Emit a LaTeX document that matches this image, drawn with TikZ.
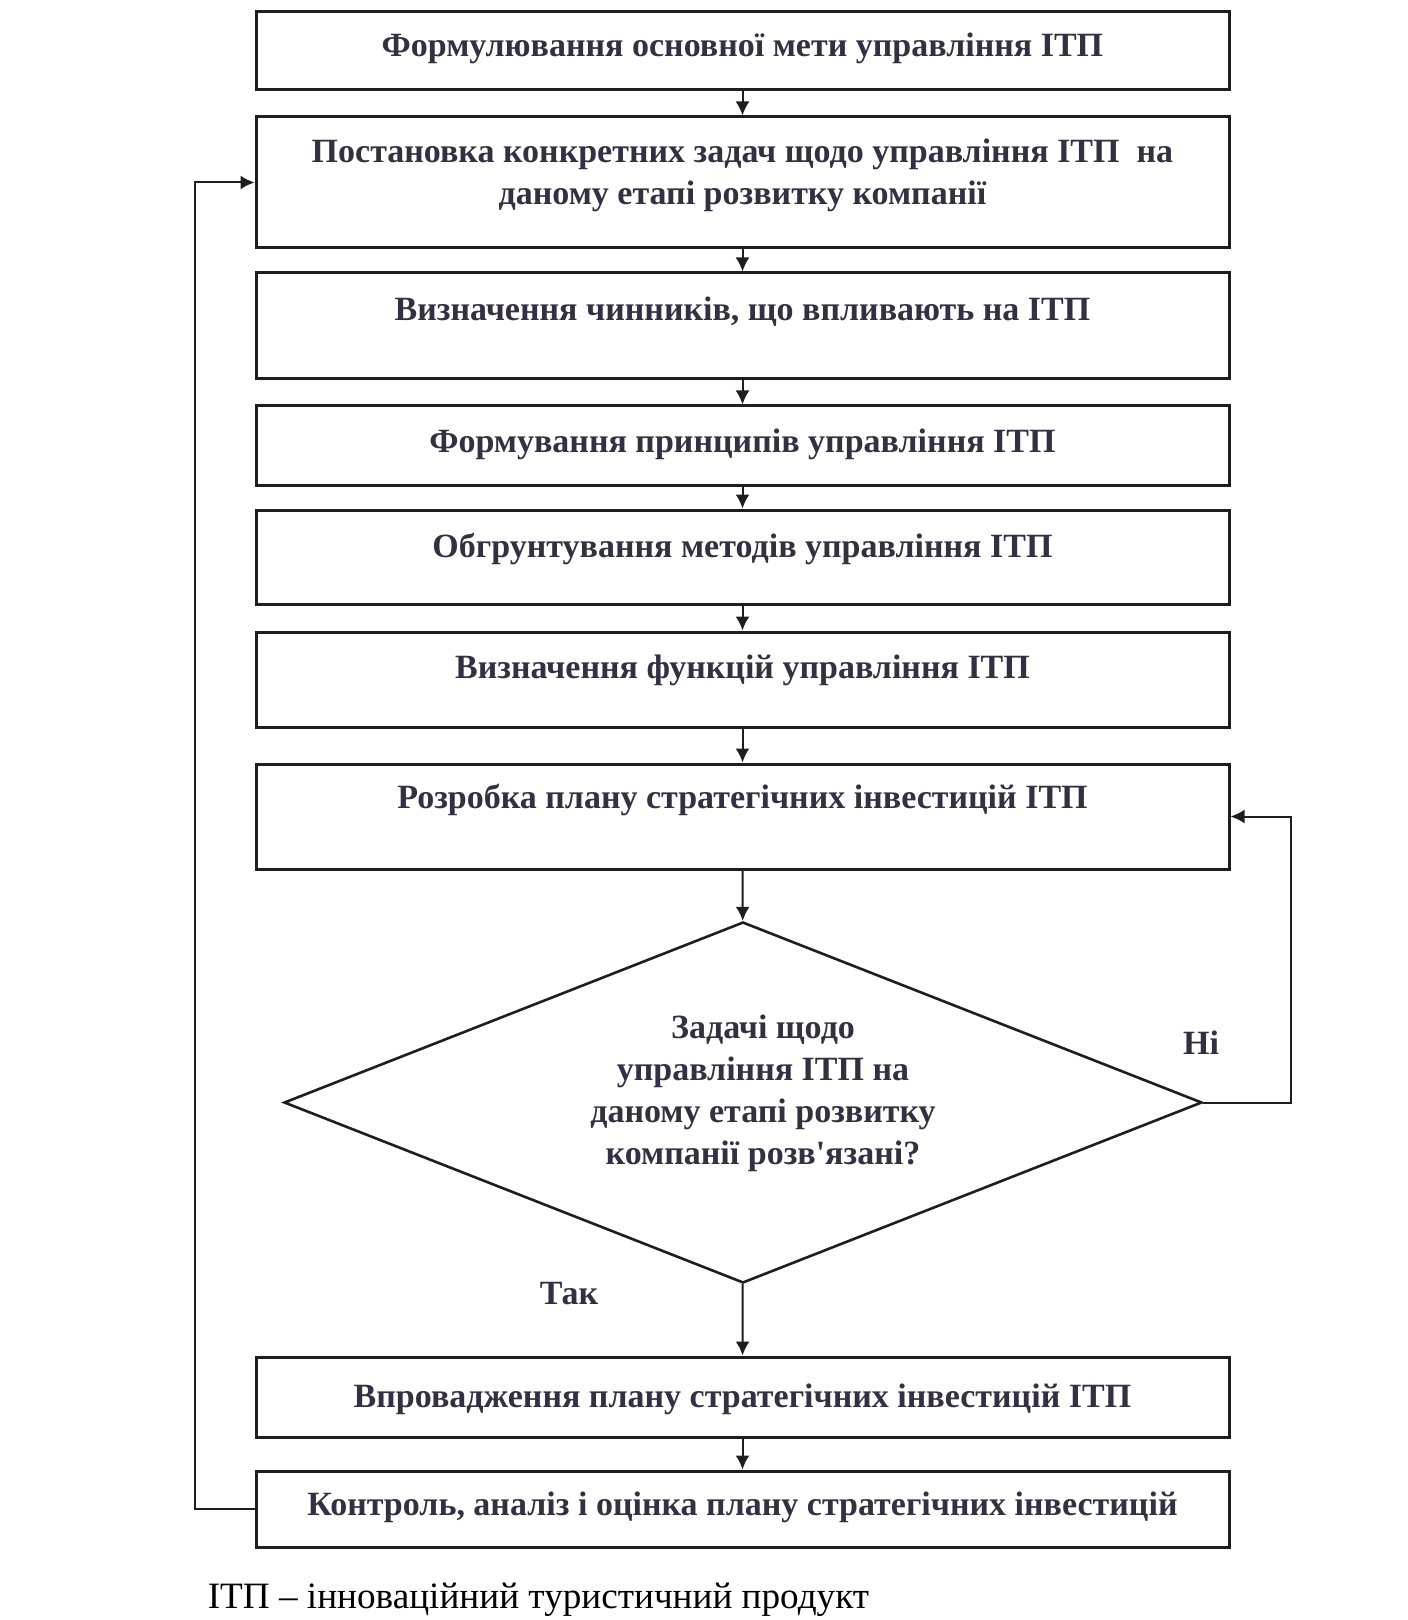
\documentclass[tikz,border=0pt]{standalone}
\usepackage{fontspec}
\setmainfont{Liberation Serif}
\usetikzlibrary{shapes.geometric,arrows.meta,positioning}
\definecolor{inkc}{RGB}{52,48,66}
\definecolor{linec}{RGB}{30,30,30}

\begin{document}
\begin{tikzpicture}[x=0.5pt,y=-0.5pt,
  stepbox/.style={rectangle, draw=linec, line width=1.5pt, minimum width=486.5pt, inner sep=0pt,
    text=inkc, font=\fontsize{17}{21}\selectfont\bfseries, align=center},
  lift/.style={text height=12pt, text depth=#1},
  steptext/.style={text=inkc, font=\fontsize{17}{21}\selectfont\bfseries, align=center, inner sep=0pt},
  decision/.style={diamond, draw=linec, line width=1.3pt, inner sep=0pt, shape aspect=2.54,
    minimum width=459pt, minimum height=180.5pt},
  answer/.style={text=inkc, font=\fontsize{17}{21}\selectfont\bfseries},
  flow/.style={draw=linec, line width=1pt, -{Latex[length=7pt,width=7pt]}}]
\useasboundingbox (0,0) rectangle (1407,1620);

% steps of the process
\node (b1) [stepbox, lift=6pt, minimum height=39pt] at (742.5,51) {Формулювання основної мети управління ІТП};
\node (b2) [stepbox, minimum height=65.5pt] at (742.5,182.5) {};
\node (t2) [steptext] at ([yshift=3.6pt]b2.center) {Постановка конкретних задач щодо управління ІТП~~на\\даному етапі розвитку компанії};
\node (b3) [stepbox, lift=17pt, minimum height=53pt] at (742.5,326) {Визначення чинників, що впливають на ІТП};
\node (b4) [stepbox, lift=5pt, minimum height=39.5pt] at (742.5,445.5) {Формування принципів управління ІТП};
\node (b5) [stepbox, lift=12pt, minimum height=47pt] at (742.5,557) {Обгрунтування методів управління ІТП};
\node (b6) [stepbox, lift=13pt, minimum height=47.5pt] at (742.5,679.5) {Визначення функцій управління ІТП};
\node (b7) [stepbox, lift=20pt, minimum height=52.5pt] at (742.5,816.5) {Розробка плану стратегічних інвестицій ІТП};
\node (dia) [decision] at (743,1102.5) {};
\node (q) [steptext] at ([xshift=10pt,yshift=4.6pt]dia.center) {Задачі щодо\\управління ІТП на\\даному етапі розвитку\\компанії розв\textquotesingle язані?};
\node (b9) [stepbox, lift=2pt, minimum height=40pt] at (742.5,1397) {Впровадження плану стратегічних інвестицій ІТП};
\node (b10) [stepbox, lift=6pt, minimum height=38pt] at (742.5,1509) {Контроль, аналіз і оцінка плану стратегічних інвестицій};

\node (no) [answer] at (1201,1043) {Ні};
\node (yes) [answer] at (569,1294) {Так};
\node (note) [font=\fontsize{18.6}{20}\selectfont] at (538.5,1600) {ІТП – інноваційний туристичний продукт};

% connectors
\foreach \a/\b in {b1/b2,b2/b3,b3/b4,b4/b5,b5/b6,b6/b7,b7/dia,dia/b9,b9/b10}
  \draw [flow] (\a) -- (\b);
\draw [flow] (b10.west) -- ++(-60,0) |- (b2.west);
\draw [flow] (dia.east) -- ++(88,0) |- (b7.east);
\end{tikzpicture}
\end{document}
